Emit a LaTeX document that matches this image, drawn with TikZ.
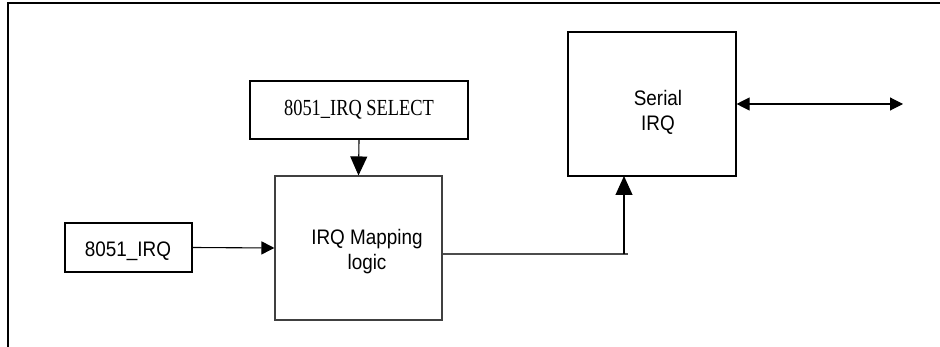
\documentclass[tikz,border=0pt]{standalone}
\usepackage{fontspec}
\setmainfont[FakeStretch=0.9]{Liberation Sans}
\newfontfamily\serifcond[FakeStretch=0.8]{Liberation Serif}
\usetikzlibrary{arrows.meta}
\begin{document}
\begin{tikzpicture}[x=1pt,y=-1pt,
  thickbox/.style={draw=black,line width=2pt,rectangle,inner sep=0pt},
  thinbox/.style={draw=black!75,line width=1.1pt,rectangle,inner sep=0pt},
  lbl/.style={font=\fontsize{21}{25}\selectfont,align=center,inner sep=0pt},
  bigtip/.style={-{Triangle[length=19pt,width=17pt]}},
  smalltip/.style={-{Triangle[length=13pt,width=13pt]}},
  conn/.style={line width=1.1pt,black}]
\useasboundingbox (0,0) rectangle (940,347);
% outer frame
\draw[line width=2pt] (8,347) -- (8,3) -- (940,3);
% blocks
\node[thickbox,minimum width=218pt,minimum height=58pt,
      font=\fontsize{23}{25}\serifcond] (sel) at (359,110) {8051\_IRQ SELECT};
\node[thinbox,minimum width=167pt,minimum height=144pt] (map) at (358.5,248) {};
\node[lbl] (maptxt) at (367,252) {IRQ Mapping\\logic};
\node[thickbox,minimum width=127pt,minimum height=49pt] (irq) at (128.5,247.5) {};
\node[lbl] (irqtxt) at (128,251) {8051\_IRQ};
\node[thinbox,draw=black,minimum width=168pt,minimum height=144pt] (ser) at (652,104) {};
\node[lbl] (sertxt) at (658,112) {Serial\\IRQ};
% connectors
\coordinate (jct) at (624,254);
\coordinate (jend) at (628,254);
\coordinate (serin) at (624,176);
\coordinate (busend) at (903,104);
\draw[conn,bigtip] (sel.south) -- (map.north);
\draw[conn,smalltip] (irq.east) -- (map.west);
\draw[line width=1.1pt,black!70] (map.east |- jct) -- (jend);
\draw[conn,bigtip] (jct) -- (serin);
\draw[conn,{Triangle[length=13pt,width=13pt]}-{Triangle[length=13pt,width=13pt]}] (ser.east) -- (busend);
\end{tikzpicture}
\end{document}
